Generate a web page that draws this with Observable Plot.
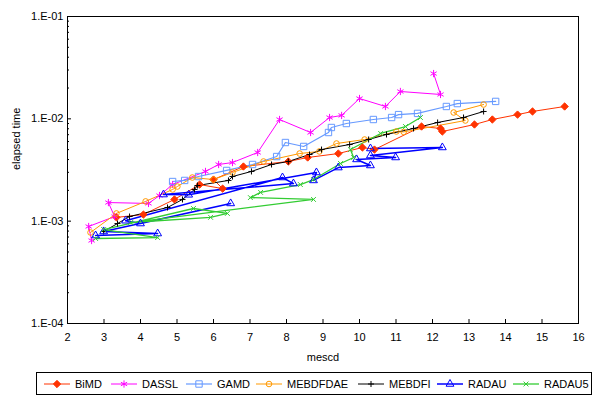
<!DOCTYPE html>
<html><head><meta charset="utf-8">
<script src="https://cdn.jsdelivr.net/npm/d3@7"></script>
<script src="https://cdn.jsdelivr.net/npm/@observablehq/plot@0.6"></script>
<style>
body{margin:0;background:#fff;font-family:"Liberation Sans",Arial,sans-serif;}
#chart{position:relative;width:603px;height:410px;background:#fff;}
#chart svg.plot{position:absolute;left:0;top:0;}
#legend{position:absolute;left:36px;top:372px;width:556px;height:23px;border:1px solid #000;box-sizing:border-box;}
.item{position:absolute;top:0;height:21px;display:flex;align-items:center;font-size:11px;white-space:nowrap;}
.item svg{margin-right:5px;}
</style></head><body><div id="chart"></div>
<script>
const seriesNames = ["BiMD","DASSL","GAMD","MEBDFDAE","MEBDFI","RADAU","RADAU5"];
const seriesColors = ["#FF3300","#FF00FF","#6699FF","#FF9900","#000000","#0000FF","#33CC33"];

const bimdX = [3.34,4.08,4.93,5.62,6.25,6.00,6.82,8.05,8.58,9.42,10.08,10.41,11.70,12.22,12.27,13.15,13.64,14.33,14.74,15.62];
const bimdY = [1.09e-3,1.16e-3,1.63e-3,2.28e-3,2.08e-3,2.55e-3,3.42e-3,3.83e-3,4.19e-3,4.58e-3,5.25e-3,5.01e-3,8.41e-3,8.05e-3,7.52e-3,8.80e-3,9.85e-3,1.10e-2,1.18e-2,1.32e-2];

const dasslX = [2.66,2.58,3.29,3.12,4.22,4.52,4.88,5.78,6.14,6.52,7.21,7.81,8.66,9.18,9.51,10.00,10.71,11.12,12.22,12.03];
const dasslY = [6.47e-4,8.87e-4,1.11e-3,1.52e-3,1.49e-3,1.78e-3,2.28e-3,3.06e-3,3.58e-3,3.74e-3,4.69e-3,9.85e-3,7.35e-3,1.03e-2,1.08e-2,1.58e-2,1.32e-2,1.85e-2,1.73e-2,2.77e-2];

const gamdX = [4.88,5.21,5.59,6.36,7.07,7.73,7.97,8.47,9.15,9.23,9.64,10.38,10.88,11.07,11.59,12.38,12.68,13.73];
const gamdY = [2.44e-3,2.50e-3,2.73e-3,3.13e-3,3.58e-3,4.28e-3,5.87e-3,5.37e-3,7.35e-3,8.23e-3,9.00e-3,9.85e-3,1.03e-2,1.10e-2,1.13e-2,1.32e-2,1.41e-2,1.48e-2];

const mebdfdaeX = [2.63,3.34,4.14,4.88,5.01,5.42,6.00,6.52,7.37,8.36,8.90,9.37,10.14,11.01,11.21,12.90,12.58,13.40];
const mebdfdaeY = [7.75e-4,1.19e-3,1.56e-3,2.04e-3,2.18e-3,2.67e-3,2.55e-3,2.99e-3,3.83e-3,4.58e-3,4.80e-3,5.74e-3,6.28e-3,7.52e-3,7.45e-3,9.63e-3,1.153e-2,1.38e-2];

const mebdfiX = [2.99,3.37,3.70,4.74,5.15,5.48,5.56,6.41,6.52,7.04,7.59,8.05,8.63,8.96,9.73,10.25,10.74,11.48,12.14,12.85,13.40];
const mebdfiY = [7.93e-4,9.48e-4,1.11e-3,1.36e-3,1.63e-3,2.04e-3,2.23e-3,2.50e-3,2.73e-3,3.06e-3,3.58e-3,3.83e-3,4.48e-3,5.01e-3,5.61e-3,6.28e-3,7.03e-3,8.05e-3,9.21e-3,1.03e-2,1.18e-2];

const radauX = [2.77,4.47,2.99,6.47,4.00,3.59,7.89,8.19,4.63,5.32,8.82,8.74,9.42,10.30,9.92,10.99,10.30,12.27,10.30];
const radauY = [7.24e-4,7.57e-4,7.93e-4,1.49e-3,9.48e-4,1.01e-3,2.67e-3,2.33e-3,1.82e-3,1.81e-3,2.99e-3,2.50e-3,3.34e-3,3.50e-3,4.01e-3,4.19e-3,4.38e-3,5.25e-3,5.13e-3];

const radau5X = [2.77,4.47,2.99,5.45,6.38,5.92,3.73,8.74,7.01,7.29,8.38,8.74,9.48,9.84,9.75,10.58,11.26,11.67];
const radau5Y = [6.77e-4,6.92e-4,8.28e-4,1.33e-3,1.19e-3,1.09e-3,9.70e-4,1.63e-3,1.70e-3,1.91e-3,2.28e-3,2.55e-3,3.66e-3,4.19e-3,5.01e-3,7.19e-3,8.41e-3,1.03e-2];

const xTicks = [2,3,4,5,6,7,8,9,10,11,12,13,14,15,16];
const yTicks = [1e-4,1e-3,1e-2,1e-1];
const yTickLabels = ["1.E-04","1.E-03","1.E-02","1.E-01"];
const yMinorTicks = [];
for (const dec of [1e-4,1e-3,1e-2]) for (const m of [2,3,4,5,6,7,8,9]) yMinorTicks.push(m*dec);

const xs = [bimdX,dasslX,gamdX,mebdfdaeX,mebdfiX,radauX,radau5X];
const ys = [bimdY,dasslY,gamdY,mebdfdaeY,mebdfiY,radauY,radau5Y];
// marker styling per series
const styles = [
  {symbol:"diamond2", r:3.3, fill:"#FF3300", stroke:"#FF3300", lw:1},
  {symbol:"asterisk", r:3.4, fill:"none", stroke:"#FF00FF", lw:1},
  {symbol:"square", r:3.6, fill:"none", stroke:"#6699FF", lw:1.2},
  {symbol:"circle", r:2.8, fill:"none", stroke:"#FF9900", lw:1},
  {symbol:"plus", r:2.1, fill:"none", stroke:"#000000", lw:1},
  {symbol:"triangle", r:2.9, fill:"none", stroke:"#0000FF", lw:1.5},
  {symbol:"times", r:2.3, fill:"none", stroke:"#33CC33", lw:1.3}
];

const rows = [];
seriesNames.forEach((name, s) => {
  xs[s].forEach((x, i) => rows.push({series: name, s, i, x, y: ys[s][i]}));
});

const W = 603, H = 365, mL = 67, mR = 25, mT = 16, mB = 42;
const innerW = W - mL - mR, innerH = H - mT - mB;

const marks = [];
seriesNames.forEach((name, s) => {
  const data = rows.filter(d => d.s === s);
  marks.push(Plot.line(data, {x: "x", y: "y", stroke: seriesColors[s], strokeWidth: styles[s].lw}));
});
seriesNames.forEach((name, s) => {
  const data = rows.filter(d => d.s === s);
  const st = styles[s];
  marks.push(Plot.dot(data, {x: "x", y: "y", symbol: st.symbol, r: st.r, stroke: st.stroke, fill: st.fill, strokeWidth: 1}));
});
marks.push(
  Plot.frame({stroke: "#000", strokeWidth: 1}),
  Plot.ruleX(xTicks, {insetTop: innerH - 4, stroke: "#000"}),
  Plot.ruleY(yTicks, {insetRight: innerW - 4, stroke: "#000"}),
  Plot.ruleY(yMinorTicks, {insetRight: innerW - 2, stroke: "#000"}),
  Plot.axisX(xTicks, {tickSize: 0, tickPadding: 10, label: null, fill: "#000"}),
  Plot.axisY(yTicks, {tickSize: 0, tickPadding: 4, label: null, fill: "#000", tickFormat: d => yTickLabels[yTicks.indexOf(d)]}),
  Plot.text(["mescd"], {text: d => d, frameAnchor: "bottom", dy: 37, fill: "#000", fontSize: 11}),
  Plot.text(["elapsed time"], {text: d => d, frameAnchor: "left", dx: -51, rotate: -90, fill: "#000", fontSize: 11})
);

const svg = Plot.plot({
  width: W, height: H, marginLeft: mL, marginRight: mR, marginTop: mT, marginBottom: mB,
  style: {fontFamily: "'Liberation Sans', Arial, sans-serif", fontSize: "11px", background: "#fff", color: "#000", overflow: "visible"},
  x: {domain: [2, 16]},
  y: {type: "log", domain: [1e-4, 1e-1]},
  marks
});
svg.classList.add("plot");
const chart = document.getElementById("chart");
chart.appendChild(svg);

// legend
const legend = document.createElement("div");
legend.id = "legend";
chart.appendChild(legend);
const legendLefts = [44,111,186,256,358,437,513];
seriesNames.forEach((name, s) => {
  const item = document.createElement("div");
  item.className = "item";
  item.style.left = (legendLefts[s] - 37) + "px";
  const sw = d3.create("svg").attr("width", 26).attr("height", 12);
  sw.append("line").attr("x1", 0).attr("x2", 26).attr("y1", 6).attr("y2", 6)
    .attr("stroke", seriesColors[s]).attr("stroke-width", styles[s].lw);
  const st = styles[s];
  const symMap = {diamond2: d3.symbolDiamond2, asterisk: d3.symbolAsterisk, square: d3.symbolSquare, circle: d3.symbolCircle, plus: d3.symbolPlus, triangle: d3.symbolTriangle, times: d3.symbolTimes};
  sw.append("path").attr("transform", "translate(13,6)")
    .attr("d", d3.symbol(symMap[st.symbol], Math.PI * st.r * st.r)())
    .attr("fill", st.fill).attr("stroke", st.stroke).attr("stroke-width", 1);
  item.appendChild(sw.node());
  const t = document.createElement("span");
  t.textContent = name;
  item.appendChild(t);
  legend.appendChild(item);
});
</script></body></html>
